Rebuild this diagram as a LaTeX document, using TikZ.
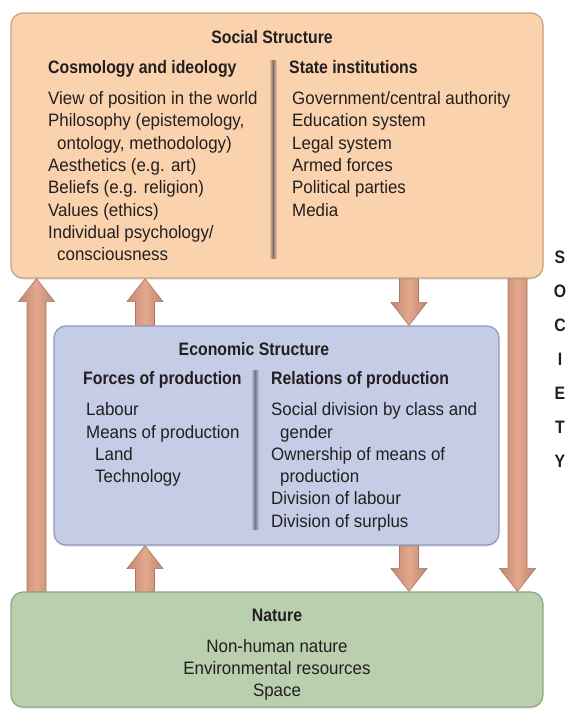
\documentclass[tikz,border=0pt]{standalone}
\usepackage{fontspec}
\setmainfont{Liberation Sans}[UprightFeatures={FakeStretch=0.94},BoldFeatures={FakeStretch=0.88}]
\usepackage{tikz}
\usetikzlibrary{calc}
\usetikzlibrary{backgrounds,shadows}
\definecolor{socialfill}{HTML}{FAD3AE}
\definecolor{socialline}{HTML}{C9A07E}
\definecolor{socialdiv}{HTML}{7E6F66}
\definecolor{econfill}{HTML}{C5CDE6}
\definecolor{econline}{HTML}{8D98BF}
\definecolor{econdiv}{HTML}{6F7590}
\definecolor{naturefill}{HTML}{B9CFAE}
\definecolor{natureline}{HTML}{8DA680}
\definecolor{arrowfill}{HTML}{E3A78C}
\definecolor{arrowline}{HTML}{A97563}
\definecolor{ink}{HTML}{231F20}
\tikzset{
  box/.style={rounded corners=12pt, line width=1.2pt, inner sep=0pt,
    drop shadow={shadow xshift=0pt, shadow yshift=-1.5pt, opacity=.25}},
  headtext/.style={font=\bfseries\fontsize{18}{22}\selectfont, text=ink, inner sep=0pt, anchor=base west},
  titletext/.style={headtext, anchor=base},
  itemtext/.style={font=\fontsize{18}{22}\selectfont, text=ink, inner sep=0pt, anchor=base west},
  fatarrow/.style={draw=arrowline, line width=.6pt, left color=arrowline!60!arrowfill,
    right color=arrowline!60!arrowfill, middle color=arrowfill}
}
\newcommand{\ind}{\hspace*{9pt}}
% one column of list lines, 22.3 apart
\newcommand{\itemcol}[4]{\foreach \t [count=\i from 0] in {#4} {\node[itemtext] (#1\i) at (#2, #3+22.3*\i) {\t};}}
% gray rule between two columns
\newcommand{\divider}[5]{\shade[left color=#5, right color=#5, middle color=#4] (#1-4,#2) rectangle (#1+4,#3);}
% vertical block arrow from #1 to #2
\newcommand{\fatarrow}[2]{\path[fatarrow] let \p1=#1, \p2=#2, \n1={ifthenelse(\y2>\y1,1,-1)} in
  (\x1-9.5pt,\y1) -- (\x1-9.5pt,\y2-\n1*23pt) -- (\x1-18pt,\y2-\n1*23pt) -- (\x2,\y2)
  -- (\x1+18pt,\y2-\n1*23pt) -- (\x1+9.5pt,\y2-\n1*23pt) -- (\x1+9.5pt,\y1) -- cycle;}

\begin{document}
\begin{tikzpicture}[x=1pt,y=-1pt]
    \useasboundingbox (0,0) rectangle (567,710);
    % boxes
    \node[box, fill=socialfill, draw=socialline, minimum width=532pt, minimum height=265pt] (social) at (277,145.5) {};
    \node[box, fill=econfill, draw=econline, minimum width=445pt, minimum height=219pt] (econ) at (276.5,435.5) {};
    \node[box, fill=naturefill, draw=natureline, minimum width=532pt, minimum height=115pt] (nature) at (277,649.5) {};
    % arrows
    \coordinate (colL) at (36.5,0);
    \coordinate (colM) at (145,0);
    \coordinate (colN) at (409,0);
    \coordinate (colR) at (517.5,0);
    \begin{scope}[on background layer]
        \fatarrow{(nature.north -| colL)}{(social.south -| colL)}
        \fatarrow{(econ.north -| colM)}{(social.south -| colM)}
        \fatarrow{(social.south -| colN)}{(econ.north -| colN)}
        \fatarrow{(social.south -| colR)}{(nature.north -| colR)}
        \fatarrow{(nature.north -| colM)}{(econ.south -| colM)}
        \fatarrow{(econ.south -| colN)}{(nature.north -| colN)}
    \end{scope}
    % social structure
    \node[titletext] (socialtitle) at (272,43.3) {Social Structure};
    \node[headtext] (cosmo) at (48,73.5) {Cosmology and ideology};
    \node[headtext] (state) at (289,73.5) {State institutions};
    \divider{273}{60}{258}{socialdiv}{socialfill}
    \itemcol{cosmo}{48}{104.5}{View of position in the world, {Philosophy (epistemology,}, {\ind ontology, methodology)}, Aesthetics (e.g. art), Beliefs (e.g. religion), Values (ethics), Individual psychology/, \ind consciousness}
    \itemcol{state}{292}{104.5}{Government/central authority, Education system, Legal system, Armed forces, Political parties, Media}
    % economic structure
    \node[titletext] (econtitle) at (254,355) {Economic Structure};
    \node[headtext] (forces) at (83,384) {Forces of production};
    \node[headtext] (relations) at (271,384) {Relations of production};
    \divider{255}{370}{529}{econdiv}{econfill}
    \itemcol{forces}{86}{415.7}{Labour, Means of production, \ind Land, \ind Technology}
    \itemcol{relations}{271}{415.7}{Social division by class and, \ind gender, Ownership of means of, \ind production, Division of labour, Division of surplus}
    % nature
    \node[titletext] (naturetitle) at (277,621) {Nature};
    \foreach \t [count=\i from 0] in {Non-human nature, Environmental resources, Space}
        \node[itemtext, anchor=base] (nature\i) at (277, 652.3+22*\i) {\t};
    % side label
    \foreach \c [count=\i from 0] in {S,O,C,I,E,T,Y}
        \node[titletext] (society\i) at (560, 263+34*\i) {\c};
\end{tikzpicture}
\end{document}
